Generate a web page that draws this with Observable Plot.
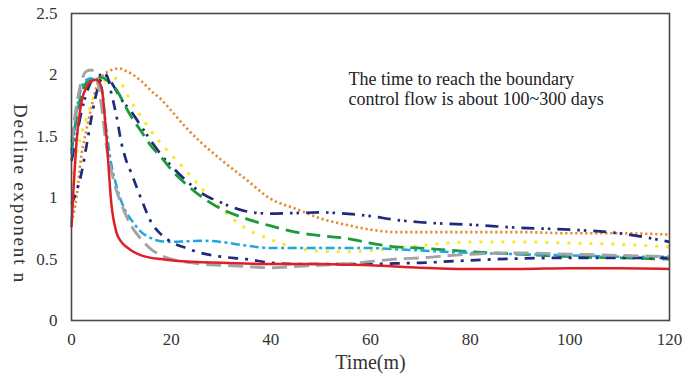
<!DOCTYPE html>
<html>
<head>
<meta charset="utf-8">
<script src="https://cdn.jsdelivr.net/npm/d3@7"></script>
<script src="https://cdn.jsdelivr.net/npm/@observablehq/plot@0.6"></script>
<style>
  html, body { margin: 0; padding: 0; background: #fff; }
  #chart { width: 684px; height: 381px; }
</style>
</head>
<body>
<div id="chart"></div>
<script>
// Time grid (months)
const time = [0,1,2,3,4,5,6,7,8,9,10,11,12,14,16,18,20,23,26,30,35,40,45,50,55,60,65,70,80,90,100,110,120];

// Decline exponent n, one array per curve
const redSolid   = [0.76,1.45,1.78,1.90,1.95,1.96,1.90,1.50,0.95,0.72,0.64,0.60,0.57,0.53,0.51,0.50,0.49,0.48,0.475,0.47,0.465,0.46,0.46,0.46,0.455,0.45,0.44,0.43,0.42,0.42,0.425,0.425,0.42];
const grayDash   = [1.45,1.75,1.95,2.03,2.04,1.98,1.75,1.42,1.22,1.06,0.95,0.85,0.77,0.66,0.58,0.53,0.50,0.475,0.46,0.45,0.44,0.43,0.44,0.45,0.46,0.48,0.50,0.51,0.54,0.55,0.54,0.53,0.52];
const navyFast   = [0.95,1.05,1.20,1.42,1.65,1.85,1.97,2.00,1.85,1.67,1.45,1.30,1.20,0.99,0.80,0.70,0.64,0.59,0.55,0.52,0.50,0.47,0.46,0.46,0.46,0.46,0.465,0.47,0.49,0.505,0.51,0.51,0.51];
const blueDashDot= [1.35,1.70,1.90,1.96,1.97,1.96,1.90,1.55,1.27,1.10,0.97,0.88,0.82,0.72,0.67,0.645,0.64,0.645,0.65,0.64,0.61,0.59,0.59,0.59,0.59,0.59,0.58,0.57,0.55,0.54,0.53,0.52,0.52];
const greenDash  = [1.38,1.65,1.85,1.94,1.97,1.98,1.98,1.96,1.93,1.88,1.81,1.73,1.66,1.54,1.42,1.33,1.23,1.11,1.01,0.91,0.83,0.77,0.72,0.69,0.67,0.63,0.60,0.59,0.56,0.54,0.52,0.51,0.50];
const navySlow   = [1.30,1.50,1.70,1.85,1.95,1.99,2.00,1.99,1.94,1.87,1.80,1.75,1.70,1.58,1.46,1.35,1.26,1.14,1.04,0.96,0.89,0.87,0.875,0.88,0.87,0.85,0.82,0.80,0.78,0.755,0.74,0.71,0.64];
const yellowDot  = [1.10,1.35,1.52,1.65,1.77,1.87,1.93,1.96,1.97,1.97,1.93,1.85,1.78,1.66,1.54,1.44,1.35,1.22,1.08,0.91,0.75,0.66,0.59,0.565,0.56,0.57,0.59,0.61,0.64,0.64,0.63,0.62,0.60];
const orangeDot  = [0.80,1.00,1.35,1.55,1.74,1.90,1.98,2.02,2.04,2.05,2.05,2.03,2.01,1.95,1.87,1.80,1.71,1.57,1.45,1.31,1.15,0.99,0.91,0.83,0.78,0.74,0.72,0.72,0.72,0.72,0.71,0.71,0.70];

// Axis ticks and texts
const xTicks = [0,20,40,60,80,100,120];
const yTicks = [0,0.5,1,1.5,2,2.5];
const xLabel = "Time(m)";
const yLabel = "Decline exponent n";
const note = "The time to reach the boundary\ncontrol flow is about 100~300 days";

const rows = vals => time.map((t, i) => ({t, n: vals[i]}));

const styles = [
  {data: orangeDot,   stroke: "#e48a2a", strokeWidth: 2.6, dash: "2.2,2.8"},
  {data: yellowDot,   stroke: "#f7e92a", strokeWidth: 3,   dash: "3,8"},
  {data: navySlow,    stroke: "#1f2a7c", strokeWidth: 2.7, dash: "13,7,2.5,4,2.5,7"},
  {data: greenDash,   stroke: "#1a9a3a", strokeWidth: 2.8, dash: "14,7"},
  {data: blueDashDot, stroke: "#1fa6e0", strokeWidth: 2.5, dash: "9,3.5,3,3.5"},
  {data: navyFast,    stroke: "#1f2a7c", strokeWidth: 2.7, dash: "10,7,3,7"},
  {data: grayDash,    stroke: "#a3a3a3", strokeWidth: 2.9, dash: "15,7"},
  {data: redSolid,    stroke: "#df1f26", strokeWidth: 2.5, dash: null}
];

const chart = Plot.plot({
  width: 684,
  height: 381,
  marginLeft: 71,
  marginRight: 15,
  marginTop: 13,
  marginBottom: 61,
  style: {fontFamily: "'Liberation Serif', 'Times New Roman', serif", fontSize: "17px", background: "#fff", color: "#333"},
  x: {domain: [0, 120]},
  y: {domain: [0, 2.5]},
  marks: [
    ...styles.map(s => Plot.line(rows(s.data), {
      x: "t", y: "n", curve: "monotone-x",
      stroke: s.stroke, strokeWidth: s.strokeWidth,
      strokeDasharray: s.dash, strokeLinecap: "butt", strokeLinejoin: "round"
    })),
    Plot.frame({stroke: "#4a4a4a", strokeWidth: 1.6}),
    Plot.axisX({ticks: xTicks, tickSize: 0, tickPadding: 12, label: null, fontSize: 17}),
    Plot.axisY({ticks: yTicks, tickSize: 0, tickPadding: 14, tickFormat: d => String(d), label: null, fontSize: 17}),
    Plot.text([xLabel], {frameAnchor: "bottom", dy: 48, fontSize: 20, fill: "#333"}),
    Plot.text([yLabel], {frameAnchor: "left", textAnchor: "middle", dx: -51, dy: 27, rotate: 90, fontSize: 19, fill: "#333", style: "letter-spacing: 1.8px"}),
    Plot.text([note], {frameAnchor: "top-left", dx: 277, dy: 57, textAnchor: "start", lineAnchor: "top", lineHeight: 1.12, fontSize: 18, fill: "#222"})
  ]
});
// letter spacing for the rotated y label
d3.select(chart).selectAll("text").filter(function() { return this.textContent === yLabel; }).style("letter-spacing", "1.8px");
document.getElementById("chart").append(chart);
</script>
</body>
</html>
